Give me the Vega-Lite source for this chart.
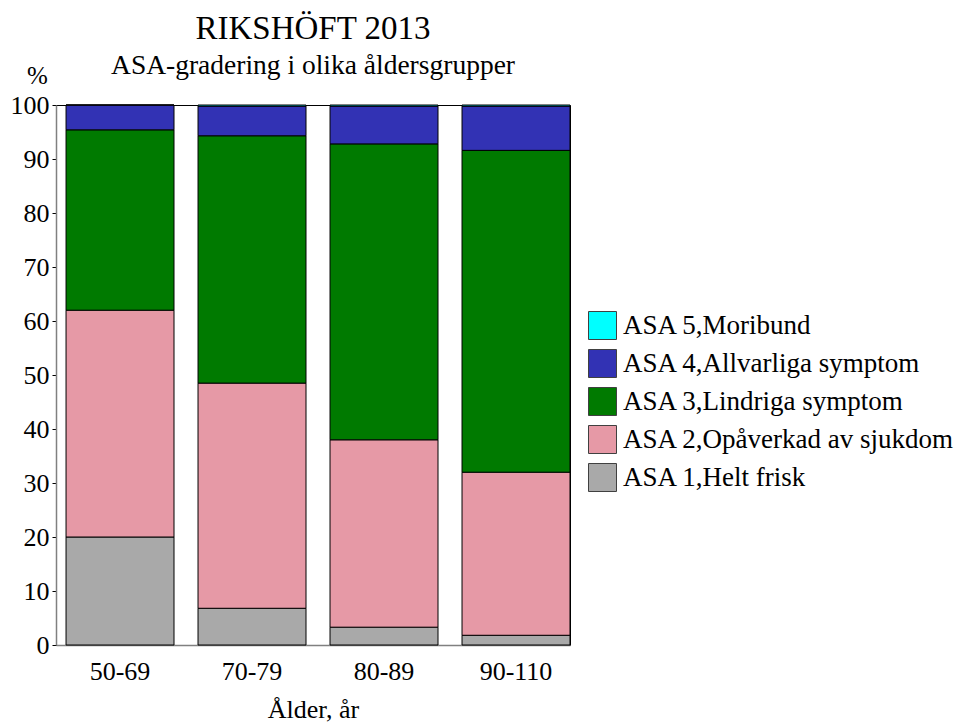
{
  "$schema": "https://vega.github.io/schema/vega-lite/v6.json",
  "autosize": "none",
  "width": 514,
  "height": 540,
  "padding": {"left": 56, "top": 105, "right": 384, "bottom": 79},
  "background": "white",
  "config": {
    "font": "Liberation Serif",
    "view": {"stroke": "black", "strokeWidth": 1}
  },
  "title": {
    "text": "RIKSHÖFT 2013",
    "subtitle": "ASA-gradering i olika åldersgrupper",
    "anchor": "middle",
    "frame": "group",
    "font": "Liberation Serif",
    "fontSize": 33,
    "fontWeight": "normal",
    "color": "black",
    "subtitleFont": "Liberation Serif",
    "subtitleFontSize": 27.5,
    "subtitleColor": "black",
    "subtitlePadding": 6,
    "offset": -16
  },
  "data": {
    "values": [
      {"alder": "50-69", "asa": "ASA 1,Helt frisk", "k": 1, "pct": 20.0},
      {"alder": "50-69", "asa": "ASA 2,Opåverkad av sjukdom", "k": 2, "pct": 42.0},
      {"alder": "50-69", "asa": "ASA 3,Lindriga symptom", "k": 3, "pct": 33.4},
      {"alder": "50-69", "asa": "ASA 4,Allvarliga symptom", "k": 4, "pct": 4.6},
      {"alder": "50-69", "asa": "ASA 5,Moribund", "k": 5, "pct": 0.0},
      {"alder": "70-79", "asa": "ASA 1,Helt frisk", "k": 1, "pct": 6.8},
      {"alder": "70-79", "asa": "ASA 2,Opåverkad av sjukdom", "k": 2, "pct": 41.7},
      {"alder": "70-79", "asa": "ASA 3,Lindriga symptom", "k": 3, "pct": 45.8},
      {"alder": "70-79", "asa": "ASA 4,Allvarliga symptom", "k": 4, "pct": 5.5},
      {"alder": "70-79", "asa": "ASA 5,Moribund", "k": 5, "pct": 0.2},
      {"alder": "80-89", "asa": "ASA 1,Helt frisk", "k": 1, "pct": 3.3},
      {"alder": "80-89", "asa": "ASA 2,Opåverkad av sjukdom", "k": 2, "pct": 34.7},
      {"alder": "80-89", "asa": "ASA 3,Lindriga symptom", "k": 3, "pct": 54.8},
      {"alder": "80-89", "asa": "ASA 4,Allvarliga symptom", "k": 4, "pct": 7.0},
      {"alder": "80-89", "asa": "ASA 5,Moribund", "k": 5, "pct": 0.2},
      {"alder": "90-110", "asa": "ASA 1,Helt frisk", "k": 1, "pct": 1.8},
      {"alder": "90-110", "asa": "ASA 2,Opåverkad av sjukdom", "k": 2, "pct": 30.2},
      {"alder": "90-110", "asa": "ASA 3,Lindriga symptom", "k": 3, "pct": 59.6},
      {"alder": "90-110", "asa": "ASA 4,Allvarliga symptom", "k": 4, "pct": 8.2},
      {"alder": "90-110", "asa": "ASA 5,Moribund", "k": 5, "pct": 0.2}
    ]
  },
  "mark": {"type": "bar", "stroke": "black", "strokeWidth": 1},
  "encoding": {
    "x": {
      "field": "alder",
      "type": "nominal",
      "sort": ["50-69", "70-79", "80-89", "90-110"],
      "scale": {"paddingInner": 0.182, "paddingOuter": 0.038, "align": 1},
      "axis": {
        "title": "Ålder, år",
        "titleFont": "Liberation Serif",
        "titleFontSize": 26,
        "titleFontWeight": "normal",
        "titleColor": "black",
        "titlePadding": 12,
        "labelAngle": 0,
        "labelFont": "Liberation Serif",
        "labelFontSize": 26,
        "labelColor": "black",
        "labelPadding": 13,
        "ticks": false,
        "domainColor": "#808080",
        "domainWidth": 1.5
      }
    },
    "y": {
      "field": "pct",
      "type": "quantitative",
      "stack": "zero",
      "scale": {"domain": [0, 100], "nice": false},
      "axis": {
        "title": "%",
        "titleAngle": 0,
        "titleX": -19,
        "titleY": -30,
        "titleAlign": "center",
        "titleBaseline": "middle",
        "titleFont": "Liberation Serif",
        "titleFontSize": 25,
        "titleFontWeight": "normal",
        "titleColor": "black",
        "values": [0, 10, 20, 30, 40, 50, 60, 70, 80, 90, 100],
        "grid": false,
        "labelFont": "Liberation Serif",
        "labelFontSize": 26,
        "labelColor": "black",
        "labelPadding": 3,
        "tickSize": 4,
        "tickColor": "black",
        "domainColor": "#808080",
        "domainWidth": 1.5
      }
    },
    "color": {
      "field": "asa",
      "type": "nominal",
      "sort": "descending",
      "scale": {
        "domain": ["ASA 5,Moribund", "ASA 4,Allvarliga symptom", "ASA 3,Lindriga symptom", "ASA 2,Opåverkad av sjukdom", "ASA 1,Helt frisk"],
        "range": ["#00FFFF", "#3232B4", "#007A00", "#E699A6", "#A9A9A9"]
      },
      "legend": {
        "title": null,
        "orient": "none",
        "legendX": 532,
        "legendY": 206,
        "padding": 0,
        "symbolType": "square",
        "symbolSize": 784,
        "symbolStrokeColor": "#404040",
        "symbolStrokeWidth": 1,
        "symbolOpacity": 1,
        "labelFont": "Liberation Serif",
        "labelFontSize": 27,
        "labelColor": "black",
        "labelOffset": 6,
        "rowPadding": 5,
        "labelLimit": 400
      }
    },
    "order": {"field": "k", "type": "quantitative", "sort": "ascending"}
  }
}
